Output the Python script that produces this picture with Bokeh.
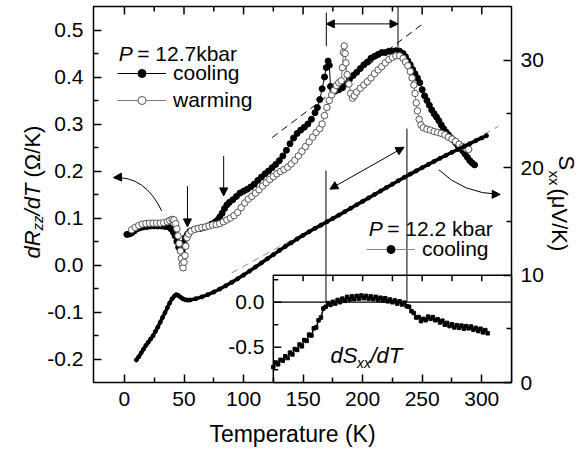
import math
from bokeh.plotting import figure
from bokeh.models import (Range1d, LinearAxis, FixedTicker, PrintfTickFormatter, Label,
                          Arrow, NormalHead, Legend, LegendItem)
from bokeh.embed import file_html
from bokeh.resources import INLINE
from bokeh.core.properties import value

# ---------------- data ----------------
T_cool = [2,4,6,8,10,13,16,19,22,25,28,31,34,37,39,41,42.5,44,45.5,47,48.5,50,51,53,55,58,61,64,67,70,73,76,78,80,82,84,86,88,
          91,94,97,100,103,106,109,112,115,118,121,124,127,130,133,136,139,142,145,148,151,154,157,160,162,164,166,168,169.5,171,172,173,
          175,177,180,183,186,189,192,195,198,201,204,207,210,213,216,219,222,225,228,231,234,
          236,238,240,242,244,246,248,250,252,254,256,258,260,262,264,266,268,270,272,274,276,278,280,282,284,286,288,290,292,294]
dR_cool = [0.065,0.066,0.068,0.072,0.076,0.079,0.081,0.082,0.083,0.083,0.083,0.083,0.082,0.081,0.077,0.070,0.062,0.050,0.038,0.030,0.032,0.048,0.058,0.066,0.072,
           0.075,0.077,0.078,0.080,0.083,0.087,0.091,0.095,0.102,0.110,0.120,0.128,0.133,
           0.139,0.146,0.153,0.157,0.161,0.166,0.172,0.180,0.187,0.194,0.200,0.207,0.214,0.222,0.232,0.244,0.258,0.270,0.280,0.287,0.293,0.300,0.310,0.324,
           0.335,0.352,0.375,0.400,0.420,0.434,0.425,0.380,0.372,0.370,
           0.373,0.377,0.385,0.395,0.403,0.410,0.418,0.426,0.432,0.440,0.444,0.448,0.452,0.452,0.455,0.455,0.456,0.455,0.450,
           0.443,0.434,0.426,0.416,0.407,0.398,0.388,0.373,0.360,0.350,0.340,0.330,0.322,0.315,0.307,0.298,0.290,0.283,0.277,0.271,
           0.266,0.260,0.254,0.249,0.243,0.236,0.229,0.222,0.217,0.213]

T_warm = [6,9,12,15,18,21,24,27,30,33,36,38,40,41.5,43,44,45,46,47,47.8,48.5,49.2,50,50.8,51.5,52.5,54,56,
          59,62,65,68,71,74,77,80,83,86,89,92,95,98,101,104,107,110,113,116,119,122,125,128,131,134,137,140,143,146,149,152,155,158,161,164,
          166,168,170,172,174,176,178,180,182,183,183.8,184.5,185.3,186,187,188.5,190,191.5,193,195,
          198,201,204,207,210,213,216,219,222,225,228,231,234,236,238,240,241.5,243,244,245,246,247.5,249,251,
          254,257,260,263,266,269,272,275,278,281,284,287,289]
dR_warm = [0.075,0.080,0.084,0.087,0.088,0.089,0.089,0.089,0.089,0.090,0.092,0.095,0.097,0.096,0.088,0.077,0.062,0.046,0.030,0.014,0.002,-0.006,0.006,0.020,0.040,0.058,0.066,0.072,
           0.076,0.078,0.080,0.081,0.083,0.085,0.086,0.088,0.092,0.096,0.100,0.105,0.112,
           0.122,0.132,0.140,0.146,0.153,0.160,0.168,0.175,0.182,0.188,0.194,0.199,0.203,0.208,0.215,0.223,0.232,0.242,0.252,0.262,0.272,0.282,0.290,
           0.300,0.318,0.335,0.350,0.362,0.372,0.382,0.388,0.392,0.420,0.452,0.466,0.450,0.430,0.405,0.385,0.365,0.355,0.360,0.368,
           0.376,0.383,0.390,0.398,0.407,0.415,0.422,0.430,0.437,0.442,0.445,0.445,0.440,0.432,0.424,0.412,
           0.398,0.383,0.365,0.345,0.328,0.310,0.298,0.292,
           0.289,0.287,0.284,0.282,0.280,0.277,0.272,0.268,0.263,0.257,0.252,0.248,0.246]

T_S = [10,12,14,16,18,20,22,24,26,28,30,32,34,36,38,40,42,43.5,45,47,49,51,53,55,
       60,65,70,75,80,85,90,95,100,105,110,115,120,125,130,135,140,145,150,155,160,165,170,175,180,185,190,195,
       200,205,210,215,220,225,230,235,240,245,250,255,260,265,270,275,280,285,290,295,300,304]
S_xx = [2.1,2.4,2.75,3.1,3.45,3.75,4.05,4.35,4.75,5.15,5.6,6.05,6.5,6.95,7.4,7.8,8.05,8.17,8.12,7.95,7.8,7.7,7.67,7.68,
        7.8,7.97,8.18,8.42,8.7,9.0,9.32,9.65,10.0,10.37,10.75,11.13,11.52,11.9,12.28,12.65,13.0,13.36,13.7,14.03,14.35,14.65,14.96,15.27,15.58,15.9,16.22,16.54,
        16.86,17.18,17.5,17.82,18.14,18.46,18.78,19.1,19.4,19.7,20.0,20.29,20.58,20.87,21.15,21.43,21.7,21.97,22.23,22.5,22.76,22.98]

T_in = [125,127,129,131,133,135,137,139,141,143,145,147,149,151,153,155,157,159,161,163,165,167,169,171,173,175,177,179,181,183,
        185,187,189,191,193,195,197,199,201,203,205,207,209,211,213,215,217,219,221,223,225,227,229,231,233,235,237,239,241,243,
        245,247,249,251,253,255,257,259,261,263,265,267,269,271,273,275,277,279,281,283,285,287,289,291,293,295,297,299,301,303,305]
dS_in = [-0.72,-0.67,-0.69,-0.64,-0.65,-0.60,-0.62,-0.56,-0.58,-0.52,-0.53,-0.47,-0.49,-0.42,-0.43,-0.36,-0.37,-0.29,-0.28,-0.20,
         -0.17,-0.07,-0.05,-0.01,-0.03,0.005,-0.015,0.025,0.0,0.04,0.015,0.06,0.03,0.065,0.035,0.07,0.04,0.075,0.045,0.07,
         0.04,0.065,0.035,0.06,0.025,0.05,0.02,0.045,0.01,0.03,0.0,0.02,-0.015,0.01,-0.025,-0.005,-0.045,-0.05,-0.1,-0.12,
         -0.17,-0.165,-0.21,-0.185,-0.2,-0.16,-0.185,-0.165,-0.2,-0.19,-0.225,-0.205,-0.25,-0.23,-0.265,-0.245,-0.28,-0.255,-0.285,-0.26,
         -0.295,-0.265,-0.29,-0.27,-0.305,-0.285,-0.32,-0.295,-0.335,-0.31,-0.345]

x_ticks = [0, 50, 100, 150, 200, 250, 300]
x_minor = [25, 75, 125, 175, 225, 275]
left_ticks = [-0.2, -0.1, 0.0, 0.1, 0.2, 0.3, 0.4, 0.5]
left_minor = [-0.15, -0.05, 0.05, 0.15, 0.25, 0.35, 0.45]
right_ticks = [0, 10, 20, 30]
right_minor = [5, 15, 25]
inset_major = [0.0, -0.5]
inset_minor = [0.25, -0.25, -0.75]
inset_top_ticks = [150, 175, 200, 225, 250, 275, 300]

# axis limits of the main box and of the inset
X_LIM = (-26, 325)
L_LIM = (-0.25, 0.55)
R_LIM = (0, 35)
IN_LIM = (-0.892, 3.286)       # inset scale spread over the full box height
inset_T = (125, 325)
inset_d = (-0.892, 0.30)

# guide lines / annotations (positions in data units)
dashR_T, dashR_v = [124, 252], [0.271, 0.516]
dashS_T, dashS_S = [90, 314], [10.2, 23.85]
topline_T, topline_v0, topline_v1 = [169.5, 229.7], [0.537, 0.55], [0.466, 0.462]
topArrow = (169.5, 229.7, 0.513)
lowline_T, lowline_S0, lowline_S1 = [169.2, 237.2], [19.73, 23.64], [7.46, 7.46]
diagArrow = (172.5, 18.0, 234.7, 21.9)
downArrows = [(52.9, 0.168, 0.081), (83.3, 0.232, 0.147)]
curveL = dict(x0=31.3, y0=0.115, cx=17.3, cy=0.19, x1=-9.2, y1=0.186)
curveR = dict(x0=264.0, y0=19.8, cx=284.0, cy=17.6, x1=315.5, y1=17.5)

FONT = "Liberation Sans"
W, H = 584, 453
BOX_L, BOX_R, BOX_T, BOX_B = 93, 511, 6, 382   # pixel box of the axes


def extend(lim, lo_px, hi_px, span_px):
    k = (lim[1] - lim[0]) / span_px
    return Range1d(lim[0] - lo_px * k, lim[1] + hi_px * k)


bw, bh = BOX_R - BOX_L, BOX_B - BOX_T
p = figure(width=W, height=H, output_backend="svg", toolbar_location=None,
           x_axis_type=None, y_axis_type=None,
           x_range=extend(X_LIM, BOX_L, W - BOX_R, bw),
           y_range=extend(L_LIM, H - BOX_B, BOX_T, bh),
           min_border_left=0, min_border_right=0, min_border_top=0, min_border_bottom=0)
p.extra_y_ranges = {"right": extend(R_LIM, H - BOX_B, BOX_T, bh),
                    "inset": extend(IN_LIM, H - BOX_B, BOX_T, bh)}
p.outline_line_color = None
p.background_fill_color = "white"
p.border_fill_color = "white"


def style_axis(ax):
    ax.major_tick_in = 8
    ax.major_tick_out = 0
    ax.minor_tick_in = 5
    ax.minor_tick_out = 0
    ax.axis_line_color = None
    ax.major_tick_line_width = 1.5
    ax.minor_tick_line_width = 1.5
    ax.major_tick_line_color = "black"
    ax.minor_tick_line_color = "black"
    ax.major_label_text_font = FONT
    ax.major_label_text_font_size = "21px"
    ax.major_label_text_color = "black"


xa = LinearAxis(fixed_location=L_LIM[0], ticker=FixedTicker(ticks=x_ticks, minor_ticks=x_minor))
style_axis(xa)
xa.major_label_standoff = 9
xa.axis_label = "Temperature (K)"
xa.axis_label_text_font = FONT
xa.axis_label_text_font_size = "23px"
xa.axis_label_text_font_style = "normal"
xa.axis_label_text_color = "black"
xa.axis_label_standoff = 12
p.add_layout(xa, "below")

ya = LinearAxis(fixed_location=X_LIM[0], ticker=FixedTicker(ticks=left_ticks, minor_ticks=left_minor),
                formatter=PrintfTickFormatter(format="%.1f"))
style_axis(ya)
ya.major_label_standoff = 10
p.add_layout(ya, "left")

ra = LinearAxis(y_range_name="right", fixed_location=X_LIM[1],
                ticker=FixedTicker(ticks=right_ticks, minor_ticks=right_minor))
style_axis(ra)
ra.major_label_standoff = 9
p.add_layout(ra, "right")

# box outline and top ticks
p.quad(left=[X_LIM[0]], right=[X_LIM[1]], bottom=[L_LIM[0]], top=[L_LIM[1]],
       fill_color=None, line_color="black", line_width=1.5)
p.ray(x=x_ticks, y=[L_LIM[1]] * len(x_ticks), length=8, length_units="screen", angle=-math.pi / 2,
      line_color="black", line_width=1.5)
p.ray(x=x_minor, y=[L_LIM[1]] * len(x_minor), length=5, length_units="screen", angle=-math.pi / 2,
      line_color="black", line_width=1.5)

# ---------------- guide lines ----------------
p.line(dashR_T, dashR_v, line_color="black", line_width=1, line_dash="7 5")
p.line(dashS_T, dashS_S, y_range_name="right", line_color="#8a8a8a", line_width=1, line_dash="7 5")
p.segment(x0=topline_T, y0=topline_v0, x1=topline_T, y1=topline_v1, line_color="black", line_width=1)

# ---------------- main data ----------------
cool_line = p.line(T_cool, dR_cool, line_color="black", line_width=1)
cool_pts = p.scatter(T_cool, dR_cool, marker="circle", size=6, fill_color="black", line_color="black")
warm_line = p.line(T_warm, dR_warm, line_color="#777777", line_width=1)
warm_pts = p.scatter(T_warm, dR_warm, marker="circle", size=6.5, fill_color="white",
                     line_color="#555555", line_width=1)

s_thin = p.line(T_S, S_xx, y_range_name="right", line_color="#888888", line_width=1)
s_band = p.line(T_S, S_xx, y_range_name="right", line_color="black", line_width=3.5)
s_dots = p.scatter(T_S, S_xx, y_range_name="right", marker="circle", size=4,
                   fill_color="black", line_color="black")

# ---------------- inset ----------------
p.quad(left=[inset_T[0]], right=[inset_T[1]], bottom=[inset_d[0]], top=[inset_d[1]],
       y_range_name="inset", fill_color="white", line_color="black", line_width=1.5)
p.line(list(inset_T), [0, 0], y_range_name="inset", line_color="black", line_width=1.2)
p.ray(x=[inset_T[0]] * len(inset_major), y=inset_major, length=8, length_units="screen", angle=0,
      y_range_name="inset", line_color="black", line_width=1.5)
p.ray(x=[inset_T[0]] * len(inset_minor), y=inset_minor, length=5, length_units="screen", angle=0,
      y_range_name="inset", line_color="black", line_width=1.5)
p.ray(x=inset_top_ticks, y=[inset_d[1]] * len(inset_top_ticks), length=6, length_units="screen",
      angle=-math.pi / 2, y_range_name="inset", line_color="black", line_width=1.5)
p.text(x=[inset_T[0]] * 2, y=inset_major, text=["0.0", "-0.5"], y_range_name="inset",
       text_align="right", text_baseline="middle", x_offset=-9,
       text_font=value(FONT), text_font_size="21px", text_color="black")
p.line(T_in, dS_in, y_range_name="inset", line_color="black", line_width=1.5)
p.scatter(T_in, dS_in, y_range_name="inset", marker="square", size=3.5, fill_color="black", line_color="black")

p.segment(x0=lowline_T, y0=lowline_S0, x1=lowline_T, y1=lowline_S1, y_range_name="right",
          line_color="black", line_width=1)

# curved arrows
p.quadratic(x0=[curveL["x0"]], y0=[curveL["y0"]], x1=[curveL["x1"]], y1=[curveL["y1"]],
            cx=[curveL["cx"]], cy=[curveL["cy"]], line_color="black", line_width=1)
p.quadratic(x0=[curveR["x0"]], y0=[curveR["y0"]], x1=[curveR["x1"]], y1=[curveR["y1"]],
            cx=[curveR["cx"]], cy=[curveR["cy"]], y_range_name="right", line_color="black", line_width=1)


def head():
    return NormalHead(size=8, fill_color="black", line_color="black", line_width=1)


def add_arrow(x0, y0, x1, y1, both=False, rng="default"):
    a = Arrow(x_start=x0, y_start=y0, x_end=x1, y_end=y1, end=head(),
              start=head() if both else None, line_color="black", line_width=1, y_range_name=rng)
    p.add_layout(a)


add_arrow(topArrow[0], topArrow[2], topArrow[1], topArrow[2], both=True)
add_arrow(diagArrow[0], diagArrow[1], diagArrow[2], diagArrow[3], both=True, rng="right")
for (t, v0, v1) in downArrows:
    add_arrow(t, v0, t, v1)
add_arrow(curveL["x1"] + 0.12 * (curveL["cx"] - curveL["x1"]), curveL["y1"] + 0.12 * (curveL["cy"] - curveL["y1"]),
          curveL["x1"], curveL["y1"])
add_arrow(curveR["x1"] + 0.12 * (curveR["cx"] - curveR["x1"]), curveR["y1"] + 0.12 * (curveR["cy"] - curveR["y1"]),
          curveR["x1"], curveR["y1"], rng="right")

# ---------------- legends ----------------
leg1 = Legend(items=[LegendItem(label="cooling", renderers=[cool_line, cool_pts]),
                     LegendItem(label="warming", renderers=[warm_line, warm_pts])],
              location=(117, H - 111.7), glyph_width=49, glyph_height=20, label_height=20, spacing=3,
              padding=0, margin=0, label_standoff=7, border_line_color=None, background_fill_alpha=0,
              label_text_font=FONT, label_text_font_size="21px", label_text_color="black")
p.add_layout(leg1)
leg2 = Legend(items=[LegendItem(label="cooling", renderers=[s_thin, s_dots])],
              location=(366, H - 261), glyph_width=49, glyph_height=20, label_height=20, spacing=0,
              padding=0, margin=0, label_standoff=7, border_line_color=None, background_fill_alpha=0,
              label_text_font=FONT, label_text_font_size="21px", label_text_color="black")
p.add_layout(leg2)

# ---------------- texts (pixel positions on the page) ----------------
def lab(text, cx, cy, size="21px", style="normal", angle=0.0):
    p.add_layout(Label(x=cx, y=H - cy, x_units="screen", y_units="screen", text=text,
                       text_font=FONT, text_font_size=size, text_font_style=style, angle=angle,
                       text_align="left", text_baseline="alphabetic", text_color="black"))


lab("P", 118.3, 53.3, style="italic")
lab("= 12.7kbar", 136.7, 53.3)
lab("P", 368.3, 227.7, style="italic")
lab("= 12.2 kbar", 386.7, 227.7)
lab("dS", 330, 355, size="22px", style="italic")
lab("xx", 356.5, 362, size="14px", style="italic")
lab("/dT", 370, 355, size="22px", style="italic")

up = math.pi / 2
lab("dR", 32, 258, size="22px", style="italic", angle=up)
lab("zz", 37, 229.9, size="15px", style="italic", angle=up)
lab("/dT", 32, 214.9, size="22px", style="italic", angle=up)
lab("(\u03A9/K)", 32, 177, size="22px", angle=up)

down = -math.pi / 2
lab("S", 566, 155, size="22px", angle=down)
lab("xx", 554, 170, size="15px", angle=down)
lab("(\u03BCV/K)", 559, 188, size="22px", angle=down)

open("out.html", "w").write(file_html(p, INLINE))
